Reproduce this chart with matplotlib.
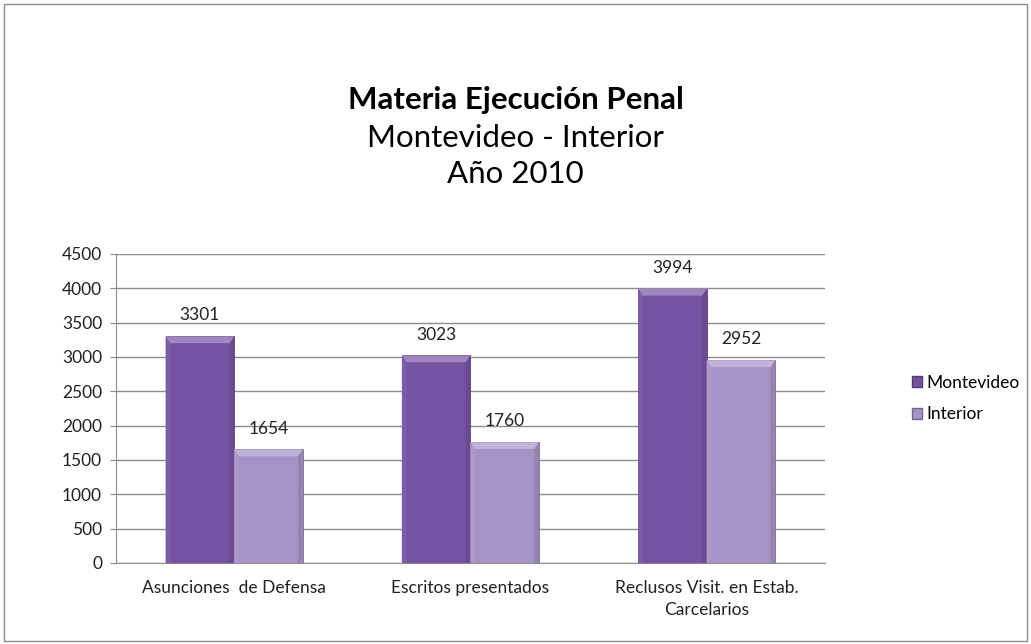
import numpy as np
import matplotlib.pyplot as plt
from matplotlib.patches import Rectangle, Polygon
from matplotlib.colors import to_rgb

plt.rcParams['font.family'] = ['Lato', 'DejaVu Sans']

# datos
categorias = ["Asunciones  de Defensa", "Escritos presentados", "Reclusos Visit. en Estab.\nCarcelarios"]
montevideo = [3301, 3023, 3994]
interior = [1654, 1760, 2952]
series = ["Montevideo", "Interior"]
colores = ["#7652a2", "#a593c6"]

fig = plt.figure(figsize=(10.31, 6.44), dpi=100)
ax = fig.add_axes([0.1125, 0.1258, 0.6875, 0.4798])

x = np.arange(len(categorias))
ancho = 0.29
bx = 0.02    # bisel lateral (unidades x)
by = 100     # bisel superior (unidades y)


def aclarar(c, f):
    r, g, b = to_rgb(c)
    return (r + (1 - r) * f, g + (1 - g) * f, b + (1 - b) * f)


def oscurecer(c, f):
    r, g, b = to_rgb(c)
    return (r * (1 - f), g * (1 - f), b * (1 - f))


def barra_bisel(ax, xc, h, color):
    x0, x1 = xc - ancho / 2, xc + ancho / 2
    ax.add_patch(Rectangle((x0, 0), ancho, h, facecolor=color, edgecolor=oscurecer(color, 0.25),
                           linewidth=0.6, zorder=3))
    # lados
    ax.add_patch(Polygon([(x0, 0), (x0 + bx, 0), (x0 + bx, h - by), (x0, h)],
                         facecolor=aclarar(color, 0.06), edgecolor='none', zorder=3))
    ax.add_patch(Polygon([(x1, 0), (x1 - bx, 0), (x1 - bx, h - by), (x1, h)],
                         facecolor=oscurecer(color, 0.1), edgecolor='none', zorder=3))
    # parte superior
    ax.add_patch(Polygon([(x0, h), (x1, h), (x1 - bx, h - by), (x0 + bx, h - by)],
                         facecolor=aclarar(color, 0.3), edgecolor='none', zorder=3))


for i in range(len(categorias)):
    barra_bisel(ax, x[i] - ancho / 2, montevideo[i], colores[0])
    barra_bisel(ax, x[i] + ancho / 2, interior[i], colores[1])
    ax.annotate(str(montevideo[i]), (x[i] - ancho / 2, montevideo[i]), xytext=(0, 15),
                textcoords='offset points', ha='center', va='center', fontsize=12.5, color='#222222')
    ax.annotate(str(interior[i]), (x[i] + ancho / 2, interior[i]), xytext=(0, 15),
                textcoords='offset points', ha='center', va='center', fontsize=12.5, color='#222222')

ax.set_xlim(-0.5, 2.5)
ax.set_ylim(0, 4500)
ax.set_yticks(np.arange(0, 4501, 500))
ax.set_xticks(x)
ax.set_xticklabels(categorias, fontsize=12.5, color='#222222', linespacing=1.45)
ax.tick_params(axis='y', labelsize=12.5, colors='#222222', length=4, color='#888888', pad=6)
ax.tick_params(axis='x', length=0, pad=12)
ax.grid(axis='y', color='#8c8c8c', linewidth=1)
ax.set_axisbelow(True)
for s in ['top', 'right']:
    ax.spines[s].set_visible(False)
ax.spines['left'].set_color('#8c8c8c')
ax.spines['bottom'].set_color('#8c8c8c')

# leyenda
handles = [Rectangle((0, 0), 1, 1, facecolor=c, edgecolor=oscurecer(c, 0.3)) for c in colores]
fig.legend(handles, series, loc='center left', bbox_to_anchor=(0.869, 0.381), frameon=False,
           fontsize=12.5, handlelength=0.6, handleheight=0.6, handletextpad=0.25, labelspacing=0.9)

# titulo
fig.text(0.5, 0.844, "Materia Ejecución Penal", ha='center', va='center', fontsize=22.5, fontweight='bold')
fig.text(0.5, 0.785, "Montevideo - Interior", ha='center', va='center', fontsize=22.5)
fig.text(0.5, 0.730, "Año 2010", ha='center', va='center', fontsize=22.5)

# marco
fig.patches.append(Rectangle((0.004, 0.004), 0.992, 0.99, transform=fig.transFigure,
                             fill=False, edgecolor='#8c8c8c', linewidth=1))

fig.savefig("out.png", dpi=100)
